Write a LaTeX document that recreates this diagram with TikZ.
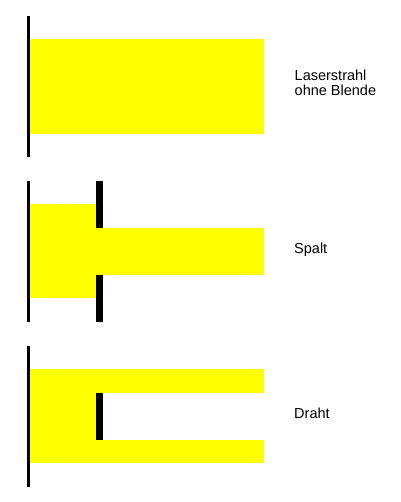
\documentclass[tikz,border=0pt]{standalone}
\usepackage{fontspec}
\setmainfont{Liberation Sans}
\definecolor{beam}{RGB}{255,255,0}
\begin{document}
\begin{tikzpicture}[x=1pt,y=-1pt,
  beamfill/.style={fill=beam},
  screen/.style={fill=black},
  lbl/.style={anchor=base west,inner sep=0pt,font=\fontsize{14.5}{15}\selectfont}]
\useasboundingbox[fill=white] (0,0) rectangle (400,502);
% Panel 1: Laserstrahl ohne Blende
\fill[beamfill] (30,39) rectangle (264,134);
\fill[screen] (27,16) rectangle (30,157);
\node[lbl] (t1a) at (294.5,81) {Laserstrahl};
\node[lbl] (t1b) at (294.5,95.7) {ohne Blende};
% Panel 2: Spalt
\fill[beamfill] (30,204) rectangle (96,298);
\fill[beamfill] (96,228) rectangle (264,275);
\fill[screen] (27,181) rectangle (30,322);
\fill[screen] (96,181) rectangle (103,228);
\fill[screen] (96,275) rectangle (103,322);
\node[lbl] (t2) at (294,253.5) {Spalt};
% Panel 3: Draht
\fill[beamfill] (30,369) rectangle (96,463);
\fill[beamfill] (96,369) rectangle (264,393);
\fill[beamfill] (96,440) rectangle (264,463);
\fill[screen] (27,346) rectangle (30,487);
\fill[screen] (96,393) rectangle (103,440);
\node[lbl] (t3) at (294,418) {Draht};
\end{tikzpicture}
\end{document}
